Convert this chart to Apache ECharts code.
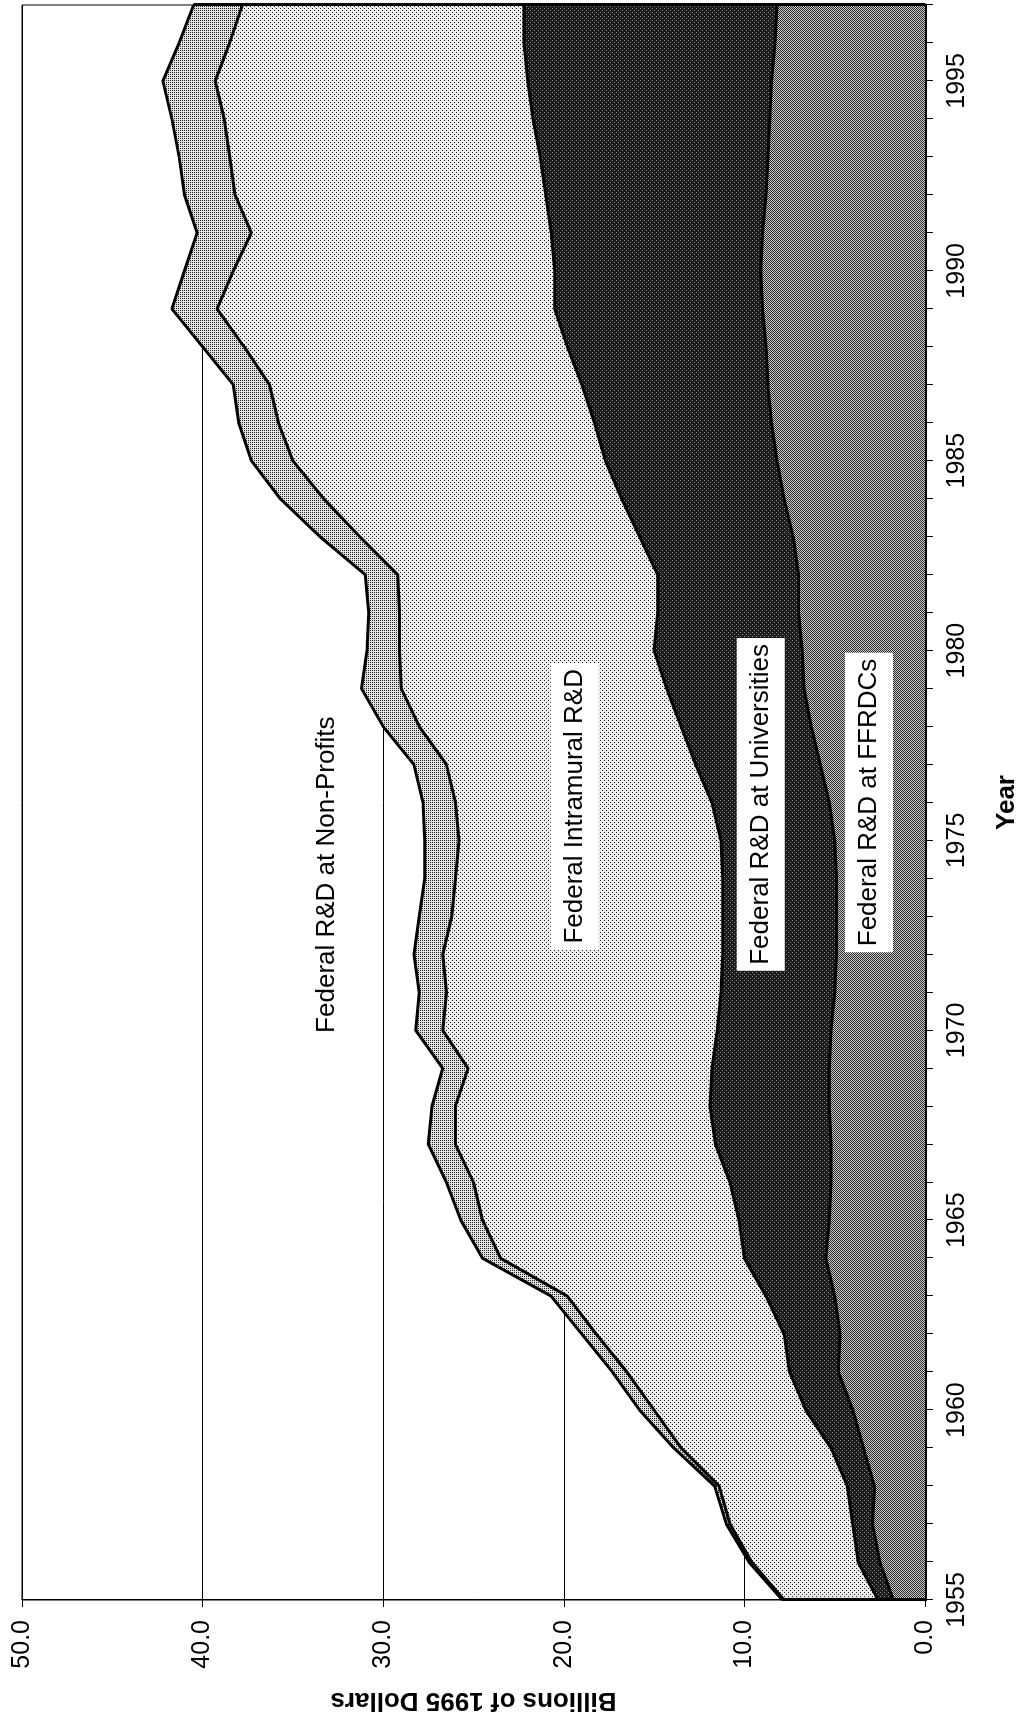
<!DOCTYPE html>
<html><head><meta charset="utf-8">
<script src="https://cdn.jsdelivr.net/npm/echarts@6/dist/echarts.min.js"></script>
<style>
html,body{margin:0;padding:0;background:#fff;overflow:hidden;}
#wrap{position:relative;width:1032px;height:1721px;overflow:hidden;background:#fff;}
#chart{position:absolute;left:0;top:0;width:1721px;height:1032px;transform-origin:0 0;transform:translate(0px,1721px) rotate(-90deg);}
</style></head><body>
<div id="wrap"><div id="chart"></div></div>
<script>
const years = [1955,1956,1957,1958,1959,1960,1961,1962,1963,1964,1965,1966,1967,1968,1969,1970,1971,1972,1973,1974,1975,1976,1977,1978,1979,1980,1981,1982,1983,1984,1985,1986,1987,1988,1989,1990,1991,1992,1993,1994,1995,1996,1997];
const ffrdc = [1.75,2.5,2.9,2.8,3.4,4.0,4.8,4.7,5.0,5.5, 5.3,5.2,5.2,5.3,5.3,5.2,5.0,4.9,4.9,4.9, 5.0,5.3,5.8,6.3,6.7,6.8,7.0,7.0,7.3,7.8, 8.2,8.5,8.7,8.8,9.0,9.1,9.0,8.8,8.7,8.6, 8.5,8.3,8.2];
const universities = [0.85,1.2,1.1,1.5,1.8,2.6,2.7,3.1,3.8,4.5, 5.0,5.6,6.4,6.6,6.5,6.3,6.3,6.3,6.3,6.3, 6.3,6.5,6.9,7.2,7.6,8.2,7.8,7.8,8.5,9.0, 9.5,9.8,10.3,11.0,11.5,11.4,11.7,12.2,12.6,13.1, 13.5,13.9,14.0];
const intramural = [5.2,5.9,6.8,7.1,8.3,8.4,9.0,10.4,11.0,13.5, 14.2,14.2,14.4,14.1,13.5,15.2,15.2,15.5,15.0,14.8, 14.5,14.2,13.8,14.5,14.7,14.1,14.3,14.4,15.5,16.5, 17.3,17.5,17.3,17.9,18.7,17.8,16.6,17.2,17.2,17.1, 17.3,16.3,15.6];
const nonProfits = [0.1,0.15,0.2,0.25,0.4,0.8,0.8,0.8,0.9,1.0, 1.2,1.5,1.5,1.3,1.4,1.5,1.5,1.6,1.8,1.7, 1.9,1.8,1.8,2.0,2.2,1.8,1.7,1.8,2.2,2.4, 2.3,2.2,2.0,2.3,2.5,2.7,3.0,2.8,2.8,2.9, 2.9,2.8,2.7];
const seriesNames = ['Federal R&D at FFRDCs','Federal R&D at Universities','Federal Intramural R&D','Federal R&D at Non-Profits'];
const valueAxisName = 'Billions of 1995 Dollars';
const yearAxisName = 'Year';

const FONT = '"Liberation Sans", Arial, sans-serif';

function pattern(bg, fg, size, dots) {
  const c = document.createElement('canvas');
  c.width = size; c.height = size;
  const g = c.getContext('2d');
  g.fillStyle = bg; g.fillRect(0, 0, size, size);
  g.fillStyle = fg;
  dots.forEach(function (d) { g.fillRect(d[0], d[1], 1, 1); });
  return { image: c, repeat: 'repeat' };
}
const fills = [
  pattern('#cacaca', '#2a2a2a', 2, [[0,0],[1,1]]),
  pattern('#1c1c1c', '#8a8a8a', 4, [[0,0],[2,2]]),
  pattern('#ececec', '#222222', 4, [[0,0],[2,2]]),
  pattern('#e2e2e2', '#222222', 4, [[0,0],[2,2],[0,2],[2,0]])
];

const comps = [ffrdc, universities, intramural, nonProfits];
// cumulative tops of the stacked bands, from the component arrays
const cum = [];
comps.forEach(function (arr, i) {
  cum.push(arr.map(function (v, j) { return Math.round(((i ? cum[i-1][j] : 0) + v) * 100) / 100; }));
});
const last = years.length - 1;
const n = comps.length;

// Filled bands: drawn from the top band down so each lower band paints over the one above
const areaSeries = [];
for (let i = n - 1; i >= 0; i--) {
  areaSeries.push({
    name: seriesNames[i], type: 'line', symbol: 'none', silent: true,
    data: cum[i].map(function (v, j) { return [years[j], v]; }),
    lineStyle: { opacity: 0, width: 0 },
    areaStyle: { color: fills[i], opacity: 1, origin: 'start' },
    z: 1 + (n - 1 - i)
  });
}
const edgeSeries = cum.map(function (arr, i) {
  const s = {
    type: 'line', symbol: 'none', silent: true, z: 6,
    data: arr.map(function (v, j) { return [years[j], v]; }),
    lineStyle: { color: '#000', width: 3 }
  };
  if (i === n - 1) {
    s.markLine = {
      silent: true, symbol: 'none', label: { show: false },
      lineStyle: { color: '#000', width: 3, type: 'solid' },
      data: [
        [{ coord: [years[0], 0] }, { coord: [years[0], arr[0]] }],
        [{ coord: [years[last], 0] }, { coord: [years[last], arr[last]] }]
      ]
    };
  }
  return s;
});

const chart = echarts.init(document.getElementById('chart'), null, { renderer: 'canvas' });
chart.setOption({
  animation: false,
  backgroundColor: '#fff',
  grid: { left: 121, right: 5, top: 22, bottom: 107, show: true, borderColor: '#000', borderWidth: 1, outerBoundsMode: 'none' },
  xAxis: {
    type: 'value', min: years[0], max: years[last], interval: 1,
    axisLine: { show: true, onZero: false, lineStyle: { color: '#000', width: 3 } },
    axisTick: { show: true, length: 8, lineStyle: { color: '#000', width: 1 } },
    axisLabel: { color: '#000', fontSize: 25, fontFamily: FONT, margin: 20,
      formatter: function (v) { return v % 5 === 0 ? String(v) : ''; } },
    splitLine: { show: false },
    name: yearAxisName, nameLocation: 'middle', nameGap: 69,
    nameTextStyle: { color: '#000', fontSize: 26, fontWeight: 'bold', fontFamily: FONT }
  },
  yAxis: {
    type: 'value', min: 0, max: 50, interval: 10,
    axisLine: { show: true, lineStyle: { color: '#000', width: 1 } },
    axisTick: { show: true, length: 7, lineStyle: { color: '#000', width: 1 } },
    axisLabel: { color: '#000', fontSize: 25, fontFamily: FONT, margin: 20,
      formatter: function (v) { return v.toFixed(1); } },
    splitLine: { show: true, lineStyle: { color: '#000', width: 1 } },
    name: valueAxisName, nameLocation: 'middle', nameGap: 87,
    nameTextStyle: { color: '#000', fontSize: 26, fontWeight: 'bold', fontFamily: FONT }
  },
  series: areaSeries.concat(edgeSeries)
});

const labelAnchors = [
  { text: seriesNames[3], at: [1974.1, 33.1], box: false },
  { text: seriesNames[2], at: [1975.9, 19.4], box: true },
  { text: seriesNames[1], at: [1975.95, 9.1], box: true },
  { text: seriesNames[0], at: [1976.0, 3.1], box: true }
];
chart.setOption({
  graphic: labelAnchors.map(function (l) {
    const p = chart.convertToPixel({ gridIndex: 0 }, l.at);
    return {
      type: 'text', x: p[0], y: p[1], z: 10, silent: true,
      style: {
        text: l.text, fill: '#000', fontSize: 26, fontFamily: FONT,
        align: 'center', verticalAlign: 'middle',
        backgroundColor: l.box ? '#fff' : 'transparent', padding: [11, 6]
      }
    };
  })
});
</script>
</body></html>
